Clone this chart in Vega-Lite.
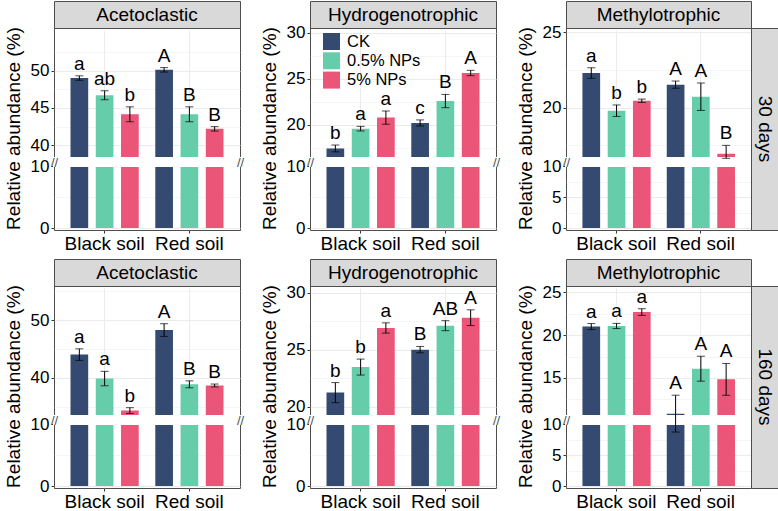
{
  "$schema": "https://vega.github.io/schema/vega-lite/v6.json",
  "padding": {"left": 3, "top": 0, "right": 0, "bottom": 0},
  "datasets": {
    "d": [
      {"time":"30 days","group":"Acetoclastic","soil":"Black soil","trt":"CK","value":49.0,"lo":48.7,"hi":49.3,"sig":"a"},
      {"time":"30 days","group":"Acetoclastic","soil":"Black soil","trt":"0.5% NPs","value":46.7,"lo":46.1,"hi":47.3,"sig":"ab"},
      {"time":"30 days","group":"Acetoclastic","soil":"Black soil","trt":"5% NPs","value":44.15,"lo":43.15,"hi":45.15,"sig":"b"},
      {"time":"30 days","group":"Acetoclastic","soil":"Red soil","trt":"CK","value":50.1,"lo":49.8,"hi":50.4,"sig":"A"},
      {"time":"30 days","group":"Acetoclastic","soil":"Red soil","trt":"0.5% NPs","value":44.15,"lo":43.15,"hi":45.15,"sig":"B"},
      {"time":"30 days","group":"Acetoclastic","soil":"Red soil","trt":"5% NPs","value":42.2,"lo":41.9,"hi":42.5,"sig":"B"},
      {"time":"30 days","group":"Hydrogenotrophic","soil":"Black soil","trt":"CK","value":17.45,"lo":17.08,"hi":17.82,"sig":"b"},
      {"time":"30 days","group":"Hydrogenotrophic","soil":"Black soil","trt":"0.5% NPs","value":19.6,"lo":19.35,"hi":19.85,"sig":"a"},
      {"time":"30 days","group":"Hydrogenotrophic","soil":"Black soil","trt":"5% NPs","value":20.8,"lo":20.08,"hi":21.52,"sig":"a"},
      {"time":"30 days","group":"Hydrogenotrophic","soil":"Red soil","trt":"CK","value":20.22,"lo":19.89,"hi":20.55,"sig":"c"},
      {"time":"30 days","group":"Hydrogenotrophic","soil":"Red soil","trt":"0.5% NPs","value":22.6,"lo":21.88,"hi":23.32,"sig":"B"},
      {"time":"30 days","group":"Hydrogenotrophic","soil":"Red soil","trt":"5% NPs","value":25.65,"lo":25.36,"hi":25.94,"sig":"A"},
      {"time":"30 days","group":"Methylotrophic","soil":"Black soil","trt":"CK","value":22.3,"lo":21.95,"hi":22.65,"sig":"a"},
      {"time":"30 days","group":"Methylotrophic","soil":"Black soil","trt":"0.5% NPs","value":19.8,"lo":19.42,"hi":20.18,"sig":"b"},
      {"time":"30 days","group":"Methylotrophic","soil":"Black soil","trt":"5% NPs","value":20.46,"lo":20.35,"hi":20.57,"sig":"b"},
      {"time":"30 days","group":"Methylotrophic","soil":"Red soil","trt":"CK","value":21.53,"lo":21.29,"hi":21.77,"sig":"A"},
      {"time":"30 days","group":"Methylotrophic","soil":"Red soil","trt":"0.5% NPs","value":20.73,"lo":19.82,"hi":21.64,"sig":"A"},
      {"time":"30 days","group":"Methylotrophic","soil":"Red soil","trt":"5% NPs","value":16.95,"lo":16.4,"hi":17.5,"sig":"B"},
      {"time":"160 days","group":"Acetoclastic","soil":"Black soil","trt":"CK","value":44.05,"lo":43.05,"hi":45.05,"sig":"a"},
      {"time":"160 days","group":"Acetoclastic","soil":"Black soil","trt":"0.5% NPs","value":39.9,"lo":38.65,"hi":41.15,"sig":"a"},
      {"time":"160 days","group":"Acetoclastic","soil":"Black soil","trt":"5% NPs","value":34.35,"lo":33.85,"hi":34.85,"sig":"b"},
      {"time":"160 days","group":"Acetoclastic","soil":"Red soil","trt":"CK","value":48.3,"lo":47.2,"hi":49.4,"sig":"A"},
      {"time":"160 days","group":"Acetoclastic","soil":"Red soil","trt":"0.5% NPs","value":38.9,"lo":38.3,"hi":39.5,"sig":"B"},
      {"time":"160 days","group":"Acetoclastic","soil":"Red soil","trt":"5% NPs","value":38.7,"lo":38.45,"hi":38.95,"sig":"B"},
      {"time":"160 days","group":"Hydrogenotrophic","soil":"Black soil","trt":"CK","value":21.23,"lo":20.35,"hi":22.11,"sig":"b"},
      {"time":"160 days","group":"Hydrogenotrophic","soil":"Black soil","trt":"0.5% NPs","value":23.47,"lo":22.77,"hi":24.17,"sig":"b"},
      {"time":"160 days","group":"Hydrogenotrophic","soil":"Black soil","trt":"5% NPs","value":26.9,"lo":26.45,"hi":27.35,"sig":"a"},
      {"time":"160 days","group":"Hydrogenotrophic","soil":"Red soil","trt":"CK","value":25.0,"lo":24.72,"hi":25.28,"sig":"B"},
      {"time":"160 days","group":"Hydrogenotrophic","soil":"Red soil","trt":"0.5% NPs","value":27.1,"lo":26.66,"hi":27.54,"sig":"AB"},
      {"time":"160 days","group":"Hydrogenotrophic","soil":"Red soil","trt":"5% NPs","value":27.8,"lo":27.11,"hi":28.49,"sig":"A"},
      {"time":"160 days","group":"Methylotrophic","soil":"Black soil","trt":"CK","value":20.98,"lo":20.63,"hi":21.33,"sig":"a"},
      {"time":"160 days","group":"Methylotrophic","soil":"Black soil","trt":"0.5% NPs","value":21.05,"lo":20.75,"hi":21.35,"sig":"a"},
      {"time":"160 days","group":"Methylotrophic","soil":"Black soil","trt":"5% NPs","value":22.67,"lo":22.28,"hi":23.06,"sig":"a"},
      {"time":"160 days","group":"Methylotrophic","soil":"Red soil","trt":"CK","value":10.85,"lo":8.7,"hi":13.0,"sig":"A"},
      {"time":"160 days","group":"Methylotrophic","soil":"Red soil","trt":"0.5% NPs","value":16.08,"lo":14.63,"hi":17.53,"sig":"A"},
      {"time":"160 days","group":"Methylotrophic","soil":"Red soil","trt":"5% NPs","value":14.84,"lo":12.99,"hi":16.69,"sig":"A"}
    ]
  },
  "spacing": 4,
  "resolve": {"legend": {"color": "independent"}},
  "vconcat": [
    {
      "hconcat": [
        {
          "vconcat": [
            {"width": 186, "height": 27, "data": {"values": [{"t": "Acetoclastic"}]}, "view": {"fill": "#d9d9d9", "stroke": "#4d4d4d"}, "mark": {"type": "text", "fontSize": 19, "baseline": "middle"}, "encoding": {"text": {"field": "t"}}},
            {
              "width": 186, "height": 202,
              "data": {"name": "d"},
              "transform": [{"filter": "datum.time == '30 days' && datum.group == 'Acetoclastic'"}],
              "layer": [
                {"mark": {"type": "bar"}, "encoding": {
                  "x": {"field": "soil", "type": "nominal", "sort": ["Black soil", "Red soil"], "scale": {"paddingInner": 0.106, "paddingOuter": 0.15}, "axis": {"title": null, "labelAngle": 0, "labelFontSize": 19, "grid": true, "bandPosition": 0.5, "labelPadding": 1}},
                  "xOffset": {"field": "trt", "type": "nominal", "sort": ["CK", "0.5% NPs", "5% NPs"], "scale": {"paddingInner": 0.3, "paddingOuter": 0.15}},
                  "y": {"field": "value", "type": "quantitative", "scale": {"domain": [0, 10, 38.3, 55.7], "range": [200, 138, 130, 0], "nice": false, "zero": false}, "axis": {"values": [0, 10, 40, 45, 50], "title": "Relative abundance (%)", "grid": true}},
                  "color": {"field": "trt", "type": "nominal", "scale": {"domain": ["CK", "0.5% NPs", "5% NPs"], "range": ["#344a70", "#66cdaa", "#eb5578"]}, "legend": null}}},
                {"mark": {"type": "rect", "color": "white", "stroke": "white", "strokeWidth": 2}, "encoding": {
                  "y": {"datum": 10, "type": "quantitative", "axis": {"values": [5, 42.5, 47.5, 52.5], "orient": "left", "labels": false, "ticks": false, "domain": false, "title": null, "grid": true, "gridWidth": 0.5}},
                  "y2": {"datum": 38.3}}},
                {"mark": {"type": "rule", "color": "black", "strokeWidth": 1}, "encoding": {
                  "x": {"field": "soil", "type": "nominal", "sort": ["Black soil", "Red soil"]},
                  "xOffset": {"field": "trt", "type": "nominal", "sort": ["CK", "0.5% NPs", "5% NPs"]},
                  "y": {"field": "lo", "type": "quantitative", "axis": {"values": [24.15], "orient": "left", "labelExpr": "'//'", "ticks": false, "tickSize": 0, "domain": false, "grid": false, "title": null, "labelPadding": 0, "labelAlign": "center", "labelBaseline": "middle", "labelFontSize": 13, "labelColor": "#4d4d4d", "zindex": 2}}, "y2": {"field": "hi"}}},
                {"mark": {"type": "tick", "color": "black", "size": 8, "thickness": 1}, "encoding": {
                  "x": {"field": "soil", "type": "nominal", "sort": ["Black soil", "Red soil"]},
                  "xOffset": {"field": "trt", "type": "nominal", "sort": ["CK", "0.5% NPs", "5% NPs"]},
                  "y": {"field": "lo", "type": "quantitative", "axis": {"values": [24.15], "orient": "right", "labelExpr": "'//'", "ticks": false, "tickSize": 0, "domain": false, "grid": false, "title": null, "labelPadding": 0, "labelAlign": "center", "labelBaseline": "middle", "labelFontSize": 13, "labelColor": "#4d4d4d", "zindex": 2}}}},
                {"mark": {"type": "tick", "color": "black", "size": 8, "thickness": 1}, "encoding": {
                  "x": {"field": "soil", "type": "nominal", "sort": ["Black soil", "Red soil"]},
                  "xOffset": {"field": "trt", "type": "nominal", "sort": ["CK", "0.5% NPs", "5% NPs"]},
                  "y": {"field": "hi", "type": "quantitative", "axis": null}}},
                {"mark": {"type": "text", "baseline": "alphabetic", "dy": -6, "fontSize": 19}, "encoding": {
                  "x": {"field": "soil", "type": "nominal", "sort": ["Black soil", "Red soil"]},
                  "xOffset": {"field": "trt", "type": "nominal", "sort": ["CK", "0.5% NPs", "5% NPs"]},
                  "y": {"field": "hi", "type": "quantitative", "axis": null}, "text": {"field": "sig"}}}
              ],
              "resolve": {"axis": {"y": "independent"}}
            }
          ],
          "spacing": 0, "bounds": "flush", "resolve": {"legend": {"color": "independent"}}
        },
        {
          "vconcat": [
            {"width": 186, "height": 27, "data": {"values": [{"t": "Hydrogenotrophic"}]}, "view": {"fill": "#d9d9d9", "stroke": "#4d4d4d"}, "mark": {"type": "text", "fontSize": 19, "baseline": "middle"}, "encoding": {"text": {"field": "t"}}},
            {
              "width": 186, "height": 202,
              "data": {"name": "d"},
              "transform": [{"filter": "datum.time == '30 days' && datum.group == 'Hydrogenotrophic'"}],
              "layer": [
                {"mark": {"type": "bar"}, "encoding": {
                  "x": {"field": "soil", "type": "nominal", "sort": ["Black soil", "Red soil"], "scale": {"paddingInner": 0.106, "paddingOuter": 0.15}, "axis": {"title": null, "labelAngle": 0, "labelFontSize": 19, "grid": true, "bandPosition": 0.5, "labelPadding": 1}},
                  "xOffset": {"field": "trt", "type": "nominal", "sort": ["CK", "0.5% NPs", "5% NPs"], "scale": {"paddingInner": 0.3, "paddingOuter": 0.15}},
                  "y": {"field": "value", "type": "quantitative", "scale": {"domain": [0, 10, 16.41, 30.54], "range": [200, 138, 130, 0], "nice": false, "zero": false}, "axis": {"values": [0, 10, 20, 25, 30], "title": "Relative abundance (%)", "grid": true}},
                  "color": {"field": "trt", "type": "nominal", "scale": {"domain": ["CK", "0.5% NPs", "5% NPs"], "range": ["#344a70", "#66cdaa", "#eb5578"]}, "legend": {"title": null, "orient": "none", "legendX": 13, "legendY": 5, "symbolType": "square", "symbolSize": 289, "symbolStrokeWidth": 0, "labelFontSize": 16.5, "labelOffset": 7, "rowPadding": 2.3, "padding": 0, "labelColor": "#000000"}}}},
                {"mark": {"type": "rect", "color": "white", "stroke": "white", "strokeWidth": 2}, "encoding": {
                  "y": {"datum": 10, "type": "quantitative", "axis": {"values": [5, 17.5, 22.5, 27.5], "orient": "left", "labels": false, "ticks": false, "domain": false, "title": null, "grid": true, "gridWidth": 0.5}},
                  "y2": {"datum": 16.41}}},
                {"mark": {"type": "rule", "color": "black", "strokeWidth": 1}, "encoding": {
                  "x": {"field": "soil", "type": "nominal", "sort": ["Black soil", "Red soil"]},
                  "xOffset": {"field": "trt", "type": "nominal", "sort": ["CK", "0.5% NPs", "5% NPs"]},
                  "y": {"field": "lo", "type": "quantitative", "axis": {"values": [13.205], "orient": "left", "labelExpr": "'//'", "ticks": false, "tickSize": 0, "domain": false, "grid": false, "title": null, "labelPadding": 0, "labelAlign": "center", "labelBaseline": "middle", "labelFontSize": 13, "labelColor": "#4d4d4d", "zindex": 2}}, "y2": {"field": "hi"}}},
                {"mark": {"type": "tick", "color": "black", "size": 8, "thickness": 1}, "encoding": {
                  "x": {"field": "soil", "type": "nominal", "sort": ["Black soil", "Red soil"]},
                  "xOffset": {"field": "trt", "type": "nominal", "sort": ["CK", "0.5% NPs", "5% NPs"]},
                  "y": {"field": "lo", "type": "quantitative", "axis": {"values": [13.205], "orient": "right", "labelExpr": "'//'", "ticks": false, "tickSize": 0, "domain": false, "grid": false, "title": null, "labelPadding": 0, "labelAlign": "center", "labelBaseline": "middle", "labelFontSize": 13, "labelColor": "#4d4d4d", "zindex": 2}}}},
                {"mark": {"type": "tick", "color": "black", "size": 8, "thickness": 1}, "encoding": {
                  "x": {"field": "soil", "type": "nominal", "sort": ["Black soil", "Red soil"]},
                  "xOffset": {"field": "trt", "type": "nominal", "sort": ["CK", "0.5% NPs", "5% NPs"]},
                  "y": {"field": "hi", "type": "quantitative", "axis": null}}},
                {"mark": {"type": "text", "baseline": "alphabetic", "dy": -6, "fontSize": 19}, "encoding": {
                  "x": {"field": "soil", "type": "nominal", "sort": ["Black soil", "Red soil"]},
                  "xOffset": {"field": "trt", "type": "nominal", "sort": ["CK", "0.5% NPs", "5% NPs"]},
                  "y": {"field": "hi", "type": "quantitative", "axis": null}, "text": {"field": "sig"}}}
              ],
              "resolve": {"axis": {"y": "independent"}}
            }
          ],
          "spacing": 0, "bounds": "flush", "resolve": {"legend": {"color": "independent"}}
        },
        {
          "vconcat": [
            {"width": 185, "height": 27, "data": {"values": [{"t": "Methylotrophic"}]}, "view": {"fill": "#d9d9d9", "stroke": "#4d4d4d"}, "mark": {"type": "text", "fontSize": 19, "baseline": "middle"}, "encoding": {"text": {"field": "t"}}},
            {
              "hconcat": [
                {
                  "width": 185, "height": 202,
                  "data": {"name": "d"},
                  "transform": [{"filter": "datum.time == '30 days' && datum.group == 'Methylotrophic'"}],
                  "layer": [
                    {"mark": {"type": "bar"}, "encoding": {
                      "x": {"field": "soil", "type": "nominal", "sort": ["Black soil", "Red soil"], "scale": {"paddingInner": 0.106, "paddingOuter": 0.15}, "axis": {"title": null, "labelAngle": 0, "labelFontSize": 19, "grid": true, "bandPosition": 0.5, "labelPadding": 1}},
                      "xOffset": {"field": "trt", "type": "nominal", "sort": ["CK", "0.5% NPs", "5% NPs"], "scale": {"paddingInner": 0.3, "paddingOuter": 0.15}},
                      "y": {"field": "value", "type": "quantitative", "scale": {"domain": [0, 10, 16.66, 25.29], "range": [200, 138, 130, 0], "nice": false, "zero": false}, "axis": {"values": [0, 5, 10, 20, 25], "title": "Relative abundance (%)", "grid": true}},
                      "color": {"field": "trt", "type": "nominal", "scale": {"domain": ["CK", "0.5% NPs", "5% NPs"], "range": ["#344a70", "#66cdaa", "#eb5578"]}, "legend": null}}},
                    {"mark": {"type": "rect", "color": "white", "stroke": "white", "strokeWidth": 2}, "encoding": {
                      "y": {"datum": 10, "type": "quantitative", "axis": {"values": [2.5, 7.5, 17.5, 22.5], "orient": "left", "labels": false, "ticks": false, "domain": false, "title": null, "grid": true, "gridWidth": 0.5}},
                      "y2": {"datum": 16.66}}},
                    {"mark": {"type": "rule", "color": "black", "strokeWidth": 1}, "encoding": {
                      "x": {"field": "soil", "type": "nominal", "sort": ["Black soil", "Red soil"]},
                      "xOffset": {"field": "trt", "type": "nominal", "sort": ["CK", "0.5% NPs", "5% NPs"]},
                      "y": {"field": "lo", "type": "quantitative", "axis": {"values": [13.33], "orient": "left", "labelExpr": "'//'", "ticks": false, "tickSize": 0, "domain": false, "grid": false, "title": null, "labelPadding": 0, "labelAlign": "center", "labelBaseline": "middle", "labelFontSize": 13, "labelColor": "#4d4d4d", "zindex": 2}}, "y2": {"field": "hi"}}},
                    {"mark": {"type": "tick", "color": "black", "size": 8, "thickness": 1}, "encoding": {
                      "x": {"field": "soil", "type": "nominal", "sort": ["Black soil", "Red soil"]},
                      "xOffset": {"field": "trt", "type": "nominal", "sort": ["CK", "0.5% NPs", "5% NPs"]},
                      "y": {"field": "lo", "type": "quantitative", "axis": null}}},
                    {"mark": {"type": "tick", "color": "black", "size": 8, "thickness": 1}, "encoding": {
                      "x": {"field": "soil", "type": "nominal", "sort": ["Black soil", "Red soil"]},
                      "xOffset": {"field": "trt", "type": "nominal", "sort": ["CK", "0.5% NPs", "5% NPs"]},
                      "y": {"field": "hi", "type": "quantitative", "axis": null}}},
                    {"mark": {"type": "text", "baseline": "alphabetic", "dy": -6, "fontSize": 19}, "encoding": {
                      "x": {"field": "soil", "type": "nominal", "sort": ["Black soil", "Red soil"]},
                      "xOffset": {"field": "trt", "type": "nominal", "sort": ["CK", "0.5% NPs", "5% NPs"]},
                      "y": {"field": "hi", "type": "quantitative", "axis": null}, "text": {"field": "sig"}}}
                  ],
                  "resolve": {"axis": {"y": "independent"}}
                },
                {"width": 27, "height": 202, "data": {"values": [{"t": "30 days"}]}, "view": {"fill": "#d9d9d9", "stroke": "#4d4d4d"}, "mark": {"type": "text", "fontSize": 19, "baseline": "middle", "angle": 90}, "encoding": {"text": {"field": "t"}}}
              ],
              "spacing": 0, "bounds": "flush", "resolve": {"legend": {"color": "independent"}}
            }
          ],
          "spacing": 0, "bounds": "flush", "resolve": {"legend": {"color": "independent"}}
        }
      ],
      "spacing": 14, "resolve": {"legend": {"color": "independent"}}
    },
    {
      "hconcat": [
        {
          "vconcat": [
            {"width": 186, "height": 27, "data": {"values": [{"t": "Acetoclastic"}]}, "view": {"fill": "#d9d9d9", "stroke": "#4d4d4d"}, "mark": {"type": "text", "fontSize": 19, "baseline": "middle"}, "encoding": {"text": {"field": "t"}}},
            {
              "width": 186, "height": 202,
              "data": {"name": "d"},
              "transform": [{"filter": "datum.time == '160 days' && datum.group == 'Acetoclastic'"}],
              "layer": [
                {"mark": {"type": "bar"}, "encoding": {
                  "x": {"field": "soil", "type": "nominal", "sort": ["Black soil", "Red soil"], "scale": {"paddingInner": 0.106, "paddingOuter": 0.15}, "axis": {"title": null, "labelAngle": 0, "labelFontSize": 19, "grid": true, "bandPosition": 0.5, "labelPadding": 1}},
                  "xOffset": {"field": "trt", "type": "nominal", "sort": ["CK", "0.5% NPs", "5% NPs"], "scale": {"paddingInner": 0.3, "paddingOuter": 0.15}},
                  "y": {"field": "value", "type": "quantitative", "scale": {"domain": [0, 10, 33.41, 55.94], "range": [200, 138, 130, 0], "nice": false, "zero": false}, "axis": {"values": [0, 10, 40, 50], "title": "Relative abundance (%)", "grid": true}},
                  "color": {"field": "trt", "type": "nominal", "scale": {"domain": ["CK", "0.5% NPs", "5% NPs"], "range": ["#344a70", "#66cdaa", "#eb5578"]}, "legend": null}}},
                {"mark": {"type": "rect", "color": "white", "stroke": "white", "strokeWidth": 2}, "encoding": {
                  "y": {"datum": 10, "type": "quantitative", "axis": {"values": [5, 35, 45, 55], "orient": "left", "labels": false, "ticks": false, "domain": false, "title": null, "grid": true, "gridWidth": 0.5}},
                  "y2": {"datum": 33.41}}},
                {"mark": {"type": "rule", "color": "black", "strokeWidth": 1}, "encoding": {
                  "x": {"field": "soil", "type": "nominal", "sort": ["Black soil", "Red soil"]},
                  "xOffset": {"field": "trt", "type": "nominal", "sort": ["CK", "0.5% NPs", "5% NPs"]},
                  "y": {"field": "lo", "type": "quantitative", "axis": {"values": [21.705], "orient": "left", "labelExpr": "'//'", "ticks": false, "tickSize": 0, "domain": false, "grid": false, "title": null, "labelPadding": 0, "labelAlign": "center", "labelBaseline": "middle", "labelFontSize": 13, "labelColor": "#4d4d4d", "zindex": 2}}, "y2": {"field": "hi"}}},
                {"mark": {"type": "tick", "color": "black", "size": 8, "thickness": 1}, "encoding": {
                  "x": {"field": "soil", "type": "nominal", "sort": ["Black soil", "Red soil"]},
                  "xOffset": {"field": "trt", "type": "nominal", "sort": ["CK", "0.5% NPs", "5% NPs"]},
                  "y": {"field": "lo", "type": "quantitative", "axis": {"values": [21.705], "orient": "right", "labelExpr": "'//'", "ticks": false, "tickSize": 0, "domain": false, "grid": false, "title": null, "labelPadding": 0, "labelAlign": "center", "labelBaseline": "middle", "labelFontSize": 13, "labelColor": "#4d4d4d", "zindex": 2}}}},
                {"mark": {"type": "tick", "color": "black", "size": 8, "thickness": 1}, "encoding": {
                  "x": {"field": "soil", "type": "nominal", "sort": ["Black soil", "Red soil"]},
                  "xOffset": {"field": "trt", "type": "nominal", "sort": ["CK", "0.5% NPs", "5% NPs"]},
                  "y": {"field": "hi", "type": "quantitative", "axis": null}}},
                {"mark": {"type": "text", "baseline": "alphabetic", "dy": -6, "fontSize": 19}, "encoding": {
                  "x": {"field": "soil", "type": "nominal", "sort": ["Black soil", "Red soil"]},
                  "xOffset": {"field": "trt", "type": "nominal", "sort": ["CK", "0.5% NPs", "5% NPs"]},
                  "y": {"field": "hi", "type": "quantitative", "axis": null}, "text": {"field": "sig"}}}
              ],
              "resolve": {"axis": {"y": "independent"}}
            }
          ],
          "spacing": 0, "bounds": "flush", "resolve": {"legend": {"color": "independent"}}
        },
        {
          "vconcat": [
            {"width": 186, "height": 27, "data": {"values": [{"t": "Hydrogenotrophic"}]}, "view": {"fill": "#d9d9d9", "stroke": "#4d4d4d"}, "mark": {"type": "text", "fontSize": 19, "baseline": "middle"}, "encoding": {"text": {"field": "t"}}},
            {
              "width": 186, "height": 202,
              "data": {"name": "d"},
              "transform": [{"filter": "datum.time == '160 days' && datum.group == 'Hydrogenotrophic'"}],
              "layer": [
                {"mark": {"type": "bar"}, "encoding": {
                  "x": {"field": "soil", "type": "nominal", "sort": ["Black soil", "Red soil"], "scale": {"paddingInner": 0.106, "paddingOuter": 0.15}, "axis": {"title": null, "labelAngle": 0, "labelFontSize": 19, "grid": true, "bandPosition": 0.5, "labelPadding": 1}},
                  "xOffset": {"field": "trt", "type": "nominal", "sort": ["CK", "0.5% NPs", "5% NPs"], "scale": {"paddingInner": 0.3, "paddingOuter": 0.15}},
                  "y": {"field": "value", "type": "quantitative", "scale": {"domain": [0, 10, 19.18, 30.58], "range": [200, 138, 130, 0], "nice": false, "zero": false}, "axis": {"values": [0, 10, 20, 25, 30], "title": "Relative abundance (%)", "grid": true}},
                  "color": {"field": "trt", "type": "nominal", "scale": {"domain": ["CK", "0.5% NPs", "5% NPs"], "range": ["#344a70", "#66cdaa", "#eb5578"]}, "legend": null}}},
                {"mark": {"type": "rect", "color": "white", "stroke": "white", "strokeWidth": 2}, "encoding": {
                  "y": {"datum": 10, "type": "quantitative", "axis": {"values": [5, 22.5, 27.5], "orient": "left", "labels": false, "ticks": false, "domain": false, "title": null, "grid": true, "gridWidth": 0.5}},
                  "y2": {"datum": 19.18}}},
                {"mark": {"type": "rule", "color": "black", "strokeWidth": 1}, "encoding": {
                  "x": {"field": "soil", "type": "nominal", "sort": ["Black soil", "Red soil"]},
                  "xOffset": {"field": "trt", "type": "nominal", "sort": ["CK", "0.5% NPs", "5% NPs"]},
                  "y": {"field": "lo", "type": "quantitative", "axis": {"values": [14.59], "orient": "left", "labelExpr": "'//'", "ticks": false, "tickSize": 0, "domain": false, "grid": false, "title": null, "labelPadding": 0, "labelAlign": "center", "labelBaseline": "middle", "labelFontSize": 13, "labelColor": "#4d4d4d", "zindex": 2}}, "y2": {"field": "hi"}}},
                {"mark": {"type": "tick", "color": "black", "size": 8, "thickness": 1}, "encoding": {
                  "x": {"field": "soil", "type": "nominal", "sort": ["Black soil", "Red soil"]},
                  "xOffset": {"field": "trt", "type": "nominal", "sort": ["CK", "0.5% NPs", "5% NPs"]},
                  "y": {"field": "lo", "type": "quantitative", "axis": {"values": [14.59], "orient": "right", "labelExpr": "'//'", "ticks": false, "tickSize": 0, "domain": false, "grid": false, "title": null, "labelPadding": 0, "labelAlign": "center", "labelBaseline": "middle", "labelFontSize": 13, "labelColor": "#4d4d4d", "zindex": 2}}}},
                {"mark": {"type": "tick", "color": "black", "size": 8, "thickness": 1}, "encoding": {
                  "x": {"field": "soil", "type": "nominal", "sort": ["Black soil", "Red soil"]},
                  "xOffset": {"field": "trt", "type": "nominal", "sort": ["CK", "0.5% NPs", "5% NPs"]},
                  "y": {"field": "hi", "type": "quantitative", "axis": null}}},
                {"mark": {"type": "text", "baseline": "alphabetic", "dy": -6, "fontSize": 19}, "encoding": {
                  "x": {"field": "soil", "type": "nominal", "sort": ["Black soil", "Red soil"]},
                  "xOffset": {"field": "trt", "type": "nominal", "sort": ["CK", "0.5% NPs", "5% NPs"]},
                  "y": {"field": "hi", "type": "quantitative", "axis": null}, "text": {"field": "sig"}}}
              ],
              "resolve": {"axis": {"y": "independent"}}
            }
          ],
          "spacing": 0, "bounds": "flush", "resolve": {"legend": {"color": "independent"}}
        },
        {
          "vconcat": [
            {"width": 185, "height": 27, "data": {"values": [{"t": "Methylotrophic"}]}, "view": {"fill": "#d9d9d9", "stroke": "#4d4d4d"}, "mark": {"type": "text", "fontSize": 19, "baseline": "middle"}, "encoding": {"text": {"field": "t"}}},
            {
              "hconcat": [
                {
                  "width": 185, "height": 202,
                  "data": {"name": "d"},
                  "transform": [{"filter": "datum.time == '160 days' && datum.group == 'Methylotrophic'"}],
                  "layer": [
                    {"mark": {"type": "bar"}, "encoding": {
                      "x": {"field": "soil", "type": "nominal", "sort": ["Black soil", "Red soil"], "scale": {"paddingInner": 0.106, "paddingOuter": 0.15}, "axis": {"title": null, "labelAngle": 0, "labelFontSize": 19, "grid": true, "bandPosition": 0.5, "labelPadding": 1}},
                      "xOffset": {"field": "trt", "type": "nominal", "sort": ["CK", "0.5% NPs", "5% NPs"], "scale": {"paddingInner": 0.3, "paddingOuter": 0.15}},
                      "y": {"field": "value", "type": "quantitative", "scale": {"domain": [0, 10, 10.58, 25.7], "range": [200, 138, 130, 0], "nice": false, "zero": false}, "axis": {"values": [0, 5, 10, 15, 20, 25], "title": "Relative abundance (%)", "grid": true}},
                      "color": {"field": "trt", "type": "nominal", "scale": {"domain": ["CK", "0.5% NPs", "5% NPs"], "range": ["#344a70", "#66cdaa", "#eb5578"]}, "legend": null}}},
                    {"mark": {"type": "rect", "color": "white", "stroke": "white", "strokeWidth": 2}, "encoding": {
                      "y": {"datum": 10, "type": "quantitative", "axis": {"values": [2.5, 7.5, 12.5, 17.5, 22.5], "orient": "left", "labels": false, "ticks": false, "domain": false, "title": null, "grid": true, "gridWidth": 0.5}},
                      "y2": {"datum": 10.58}}},
                    {"mark": {"type": "rule", "color": "black", "strokeWidth": 1}, "encoding": {
                      "x": {"field": "soil", "type": "nominal", "sort": ["Black soil", "Red soil"]},
                      "xOffset": {"field": "trt", "type": "nominal", "sort": ["CK", "0.5% NPs", "5% NPs"]},
                      "y": {"field": "lo", "type": "quantitative", "axis": {"values": [10.29], "orient": "left", "labelExpr": "'//'", "ticks": false, "tickSize": 0, "domain": false, "grid": false, "title": null, "labelPadding": 0, "labelAlign": "center", "labelBaseline": "middle", "labelFontSize": 13, "labelColor": "#4d4d4d", "zindex": 2}}, "y2": {"field": "hi"}}},
                    {"mark": {"type": "tick", "color": "black", "size": 8, "thickness": 1}, "encoding": {
                      "x": {"field": "soil", "type": "nominal", "sort": ["Black soil", "Red soil"]},
                      "xOffset": {"field": "trt", "type": "nominal", "sort": ["CK", "0.5% NPs", "5% NPs"]},
                      "y": {"field": "lo", "type": "quantitative", "axis": null}}},
                    {"mark": {"type": "tick", "color": "black", "size": 8, "thickness": 1}, "encoding": {
                      "x": {"field": "soil", "type": "nominal", "sort": ["Black soil", "Red soil"]},
                      "xOffset": {"field": "trt", "type": "nominal", "sort": ["CK", "0.5% NPs", "5% NPs"]},
                      "y": {"field": "hi", "type": "quantitative", "axis": null}}},
                    {"mark": {"type": "text", "baseline": "alphabetic", "dy": -6, "fontSize": 19}, "encoding": {
                      "x": {"field": "soil", "type": "nominal", "sort": ["Black soil", "Red soil"]},
                      "xOffset": {"field": "trt", "type": "nominal", "sort": ["CK", "0.5% NPs", "5% NPs"]},
                      "y": {"field": "hi", "type": "quantitative", "axis": null}, "text": {"field": "sig"}}}
                  ],
                  "resolve": {"axis": {"y": "independent"}}
                },
                {"width": 27, "height": 202, "data": {"values": [{"t": "160 days"}]}, "view": {"fill": "#d9d9d9", "stroke": "#4d4d4d"}, "mark": {"type": "text", "fontSize": 19, "baseline": "middle", "angle": 90}, "encoding": {"text": {"field": "t"}}}
              ],
              "spacing": 0, "bounds": "flush", "resolve": {"legend": {"color": "independent"}}
            }
          ],
          "spacing": 0, "bounds": "flush", "resolve": {"legend": {"color": "independent"}}
        }
      ],
      "spacing": 14, "resolve": {"legend": {"color": "independent"}}
    }
  ],
  "config": {
    "font": "Liberation Sans",
    "view": {"stroke": "#4d4d4d", "strokeWidth": 1},
    "axis": {"labelFontSize": 17, "labelColor": "#000000", "labelFont": "Liberation Sans", "titleFont": "Liberation Sans", "titleFontSize": 19, "titleFontWeight": "normal", "titleColor": "#000000", "tickColor": "#333333", "tickSize": 3, "domain": false, "gridColor": "#ebebeb", "gridWidth": 1, "labelPadding": 2, "titlePadding": 7},
    "text": {"font": "Liberation Sans", "color": "#000000"},
    "legend": {"labelFont": "Liberation Sans"}
  }
}
